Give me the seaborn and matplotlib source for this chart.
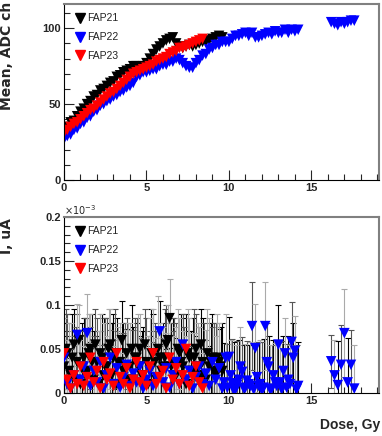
import numpy as np
import pandas as pd
import seaborn as sns
import matplotlib.pyplot as plt
from matplotlib.ticker import MultipleLocator

# dose points (Gy)
dose21 = [0.0, 0.2, 0.4, 0.6, 0.8, 1.0, 1.2, 1.4, 1.6, 1.8, 2.0, 2.2, 2.4, 2.6, 2.8, 3.0, 3.2,
          3.4, 3.6, 3.8, 4.0, 4.2, 4.4, 4.6, 4.8, 5.0, 5.2, 5.4, 5.6, 5.8, 6.0, 6.2, 6.4, 6.6,
          6.8, 7.0, 7.2, 7.4, 7.6, 7.8, 8.0, 8.2, 8.4, 8.6, 8.8, 9.0, 9.2, 9.4, 9.6]
dose22 = [0.0, 0.2, 0.4, 0.6, 0.8, 1.0, 1.2, 1.4, 1.6, 1.8, 2.0, 2.2, 2.4, 2.6, 2.8, 3.0, 3.2,
          3.4, 3.6, 3.8, 4.0, 4.2, 4.4, 4.6, 4.8, 5.0, 5.2, 5.4, 5.6, 5.8, 6.0, 6.2, 6.4, 6.6,
          6.8, 7.0, 7.2, 7.4, 7.6, 7.8, 8.0, 8.2, 8.4, 8.6, 8.8, 9.0, 9.2, 9.4, 9.6, 9.8, 10.0,
          10.2, 10.4, 10.6, 10.8, 11.0, 11.2, 11.4, 11.6, 11.8, 12.0, 12.2, 12.4, 12.6, 12.8,
          13.0, 13.2, 13.4, 13.6, 13.8, 14.0, 14.2,
          16.2, 16.4, 16.6, 16.8, 17.0, 17.2, 17.4, 17.6]
dose23 = [0.0, 0.2, 0.4, 0.6, 0.8, 1.0, 1.2, 1.4, 1.6, 1.8, 2.0, 2.2, 2.4, 2.6, 2.8, 3.0, 3.2,
          3.4, 3.6, 3.8, 4.0, 4.2, 4.4, 4.6, 4.8, 5.0, 5.2, 5.4, 5.6, 5.8, 6.0, 6.2, 6.4, 6.6,
          6.8, 7.0, 7.2, 7.4, 7.6, 7.8, 8.0, 8.2, 8.4]

# mean ADC
mean21 = [33, 35, 38, 39, 42, 45, 47, 50, 52, 55, 56, 59, 60, 62, 64, 65, 68, 69, 71, 72,
          73, 75, 75, 74, 75, 77, 80, 83, 86, 88, 90, 92, 93, 94, 90, 88, 87, 88, 89, 88,
          89, 90, 91, 91, 92, 93, 94, 95, 94]
mean22 = [27, 29, 30, 33, 34, 37, 38, 41, 42, 45, 46, 49, 50, 52, 53, 55, 56, 58, 59, 61,
          62, 64, 68, 69, 71, 71, 72, 73, 73, 75, 76, 76, 78, 78, 80, 79, 77, 75, 74, 74,
          77, 79, 82, 83, 86, 87, 89, 89, 91, 91, 91, 93, 95, 95, 96, 97, 95, 97, 94, 94,
          95, 96, 97, 96, 98, 97, 97, 99, 97, 99, 98, 99,
          104, 103, 102, 104, 103, 104, 105, 105]
mean23 = [31, 33, 35, 37, 38, 40, 42, 44, 46, 47, 49, 51, 53, 55, 57, 58, 60, 62, 64, 66,
          68, 70, 71, 72, 73, 74, 75, 76, 78, 79, 80, 81, 83, 84, 85, 87, 87, 88, 89, 90,
          91, 92, 93]

# current (x1e-3 uA) and errors
cur21 = [0.030, 0.045, 0.020, 0.055, 0.035, 0.010, 0.040, 0.025, 0.050, 0.015, 0.035, 0.045,
         0.020, 0.030, 0.055, 0.040, 0.010, 0.035, 0.025, 0.045, 0.030, 0.015, 0.040, 0.050,
         0.020, 0.035, 0.025, 0.045, 0.015, 0.040, 0.030, 0.055, 0.085, 0.035, 0.020, 0.045,
         0.030, 0.010, 0.040, 0.025, 0.050, 0.020, 0.035, 0.015, 0.030, 0.040, 0.020, 0.035,
         0.025]
err21 = [0.050, 0.045, 0.060, 0.040, 0.055, 0.050, 0.045, 0.060, 0.040, 0.055, 0.050, 0.045,
         0.065, 0.055, 0.040, 0.050, 0.060, 0.045, 0.055, 0.040, 0.050, 0.060, 0.045, 0.040,
         0.055, 0.050, 0.060, 0.045, 0.055, 0.040, 0.050, 0.045, 0.045, 0.050, 0.060, 0.040,
         0.055, 0.050, 0.045, 0.060, 0.040, 0.055, 0.050, 0.045, 0.055, 0.050, 0.060, 0.045,
         0.055]
cur22 = [0.040, 0.010, 0.005, 0.020, 0.066, 0.015, 0.030, 0.068, 0.008, 0.025, 0.012, 0.035,
         0.005, 0.020, 0.040, 0.010, 0.028, 0.006, 0.018, 0.032, 0.008, 0.022, 0.012, 0.030,
         0.005, 0.015, 0.025, 0.008, 0.018, 0.070, 0.012, 0.028, 0.006, 0.020, 0.035, 0.010,
         0.055, 0.015, 0.025, 0.005, 0.018, 0.030, 0.010, 0.022, 0.008, 0.035, 0.015, 0.028,
         0.005, 0.040, 0.041, 0.011, 0.004, 0.015, 0.024, 0.006, 0.010, 0.076, 0.051, 0.008,
         0.003, 0.076, 0.030, 0.005, 0.012, 0.055, 0.004, 0.045, 0.015, 0.058, 0.048, 0.008,
         0.036, 0.020, 0.009, 0.032, 0.068, 0.012, 0.032, 0.005]
err22 = [0.045, 0.050, 0.040, 0.045, 0.035, 0.050, 0.040, 0.045, 0.050, 0.040, 0.045, 0.035,
         0.050, 0.045, 0.040, 0.050, 0.035, 0.045, 0.050, 0.040, 0.045, 0.050, 0.040, 0.035,
         0.050, 0.045, 0.040, 0.050, 0.045, 0.035, 0.050, 0.040, 0.045, 0.050, 0.040, 0.045,
         0.035, 0.050, 0.045, 0.040, 0.050, 0.045, 0.040, 0.050, 0.045, 0.040, 0.050, 0.045,
         0.040, 0.050, 0.045, 0.050, 0.050, 0.045, 0.040, 0.050, 0.045, 0.050, 0.050, 0.050,
         0.055, 0.050, 0.035, 0.050, 0.045, 0.045, 0.055, 0.040, 0.050, 0.045, 0.040, 0.050,
         0.030, 0.040, 0.050, 0.045, 0.050, 0.050, 0.040, 0.050]
cur23 = [0.045, 0.015, 0.005, 0.020, 0.010, 0.030, 0.008, 0.018, 0.040, 0.012, 0.025, 0.005,
         0.035, 0.015, 0.022, 0.008, 0.045, 0.018, 0.010, 0.028, 0.005, 0.015, 0.035, 0.012,
         0.020, 0.008, 0.030, 0.045, 0.010, 0.018, 0.025, 0.005, 0.040, 0.015, 0.028, 0.010,
         0.020, 0.050, 0.008, 0.018, 0.030, 0.012, 0.005]
err23 = [0.040, 0.050, 0.045, 0.035, 0.050, 0.040, 0.045, 0.050, 0.035, 0.045, 0.040, 0.050,
         0.045, 0.035, 0.050, 0.045, 0.040, 0.050, 0.035, 0.045, 0.050, 0.040, 0.045, 0.050,
         0.035, 0.045, 0.040, 0.050, 0.045, 0.035, 0.050, 0.045, 0.040, 0.050, 0.035, 0.045,
         0.050, 0.040, 0.045, 0.050, 0.035, 0.045, 0.040]

# extra current readings between the main dose points
dose21_x = [0.1, 0.3, 0.5, 0.7, 0.9, 1.1, 1.3, 1.5, 1.7, 1.9, 2.1, 2.3, 2.5, 2.7, 2.9, 3.1,
            3.3, 3.5, 3.7, 3.9, 4.1, 4.3, 4.5, 4.7, 4.9, 5.1, 5.3, 5.5, 5.7, 5.9, 6.1, 6.3,
            6.5, 6.7, 6.9, 7.1, 7.3, 7.5, 7.7, 7.9, 8.1, 8.3, 8.5, 8.7, 8.9, 9.1, 9.3, 9.5]
cur21_x = [0.050, 0.025, 0.040, 0.015, 0.060, 0.030, 0.020, 0.045, 0.035, 0.055, 0.010, 0.040,
           0.030, 0.050, 0.020, 0.045, 0.035, 0.060, 0.025, 0.015, 0.050, 0.040, 0.030, 0.020,
           0.055, 0.010, 0.045, 0.035, 0.050, 0.025, 0.040, 0.060, 0.030, 0.020, 0.050, 0.035,
           0.015, 0.045, 0.025, 0.040, 0.030, 0.055, 0.020, 0.045, 0.035, 0.025, 0.040, 0.030]
err21_x = [0.045, 0.055, 0.050, 0.060, 0.040, 0.050, 0.065, 0.045, 0.055, 0.040, 0.060, 0.050,
           0.055, 0.045, 0.060, 0.050, 0.040, 0.045, 0.055, 0.065, 0.050, 0.045, 0.060, 0.050,
           0.040, 0.055, 0.050, 0.045, 0.060, 0.050, 0.055, 0.040, 0.050, 0.065, 0.045, 0.055,
           0.060, 0.050, 0.045, 0.055, 0.050, 0.040, 0.060, 0.050, 0.045, 0.055, 0.050, 0.045]
dose22_x = [9.7, 9.9, 10.1, 10.3, 10.5, 10.7, 10.9, 11.1, 11.3, 11.5, 11.7, 11.9, 12.1, 12.3,
            12.5, 12.7, 12.9, 13.1, 13.3, 13.5, 13.7, 13.9, 14.1]
cur22_x = [0.012, 0.006, 0.020, 0.003, 0.009, 0.030, 0.005, 0.014, 0.008, 0.004, 0.018, 0.010,
           0.006, 0.035, 0.004, 0.020, 0.008, 0.012, 0.025, 0.006, 0.010, 0.040, 0.004]
err22_x = [0.045, 0.050, 0.040, 0.055, 0.050, 0.045, 0.050, 0.045, 0.050, 0.050, 0.040, 0.050,
           0.055, 0.045, 0.050, 0.040, 0.050, 0.045, 0.040, 0.050, 0.045, 0.040, 0.050]

labels = ['FAP21', 'FAP22', 'FAP23']
colors = ['black', '#0000ff', '#ff0000']

top = pd.concat([
    pd.DataFrame({'dose': dose21, 'mean': mean21, 'sample': 'FAP21'}),
    pd.DataFrame({'dose': dose22, 'mean': mean22, 'sample': 'FAP22'}),
    pd.DataFrame({'dose': dose23, 'mean': mean23, 'sample': 'FAP23'}),
], ignore_index=True)
bot = pd.concat([
    pd.DataFrame({'dose': dose21, 'cur': cur21, 'err': err21, 'sample': 'FAP21'}),
    pd.DataFrame({'dose': dose21_x, 'cur': cur21_x, 'err': err21_x, 'sample': 'FAP21'}),
    pd.DataFrame({'dose': dose22, 'cur': cur22, 'err': err22, 'sample': 'FAP22'}),
    pd.DataFrame({'dose': dose22_x, 'cur': cur22_x, 'err': err22_x, 'sample': 'FAP22'}),
    pd.DataFrame({'dose': dose23, 'cur': cur23, 'err': err23, 'sample': 'FAP23'}),
], ignore_index=True)

sns.set_style('ticks')
plt.rcParams['font.family'] = ['Liberation Sans', 'DejaVu Sans']

fig = plt.figure(figsize=(3.82, 4.36), dpi=100)
ax1 = fig.add_axes([64 / 382, 1 - 180 / 436, 315 / 382, 176 / 436])
ax2 = fig.add_axes([64 / 382, 1 - 393 / 436, 315 / 382, 176 / 436])

# top: mean ADC vs dose
sns.scatterplot(data=top, x='dose', y='mean', hue='sample', hue_order=labels, palette=colors,
                marker='v', s=58, linewidth=0, ax=ax1, legend=False)
ax1.set_ylim(0, 116)

# bottom: current with error bars
shades = ['black', '#555555', '#aaaaaa']
for k in range(3):
    sub = bot[bot.index % 3 == k]
    ax2.errorbar(sub['dose'], sub['cur'], yerr=sub['err'], fmt='none', ecolor=shades[k],
                 elinewidth=0.8, capsize=2, capthick=0.8, zorder=1)
sns.scatterplot(data=bot, x='dose', y='cur', hue='sample', hue_order=labels, palette=colors,
                marker='v', s=58, linewidth=0, ax=ax2, legend=False, zorder=3)
ax2.set_ylim(0, 0.2)
ax2.set_yticks([0, 0.05, 0.1, 0.15, 0.2])
ax2.set_yticklabels(['0', '0.05', '0.1', '0.15', '0.2'])
ax2.text(0.0, 1.0, r'$\times10^{-3}$', transform=ax2.transAxes, fontsize=7,
         ha='left', va='bottom')

for ax in (ax1, ax2):
    ax.set_xlim(0, 19.1)
    ax.xaxis.set_major_locator(MultipleLocator(5))
    ax.xaxis.set_minor_locator(MultipleLocator(1))
    ax.set_xlabel('')
    ax.set_ylabel('')
    ax.tick_params(which='both', direction='in', top=False, right=False, labelsize=8, pad=2)
    ax.tick_params(which='major', length=7, width=0.8)
    ax.tick_params(which='minor', length=4, width=0.8)
    for s in ('top', 'right'):
        ax.spines[s].set_color('#808080')
        ax.spines[s].set_linewidth(1.5)
    for s in ('left', 'bottom'):
        ax.spines[s].set_color('black')
        ax.spines[s].set_linewidth(0.8)
    handles = [plt.Line2D([], [], marker='v', color=c, linestyle='none', markersize=7.5)
               for c in colors]
    ax.legend(handles, labels, loc='upper left', frameon=False, fontsize=7.5,
              handletextpad=0.1, labelspacing=0.85, borderaxespad=0.5, handlelength=1.2,
              labelcolor='#222222')

ax1.yaxis.set_major_locator(MultipleLocator(50))
ax1.yaxis.set_minor_locator(MultipleLocator(10))
ax2.yaxis.set_minor_locator(MultipleLocator(0.01))
for ax in (ax1, ax2):
    for lab in ax.get_xticklabels() + ax.get_yticklabels():
        lab.set_fontweight('bold')

fig.text(7 / 382, 1 - 2 / 436, 'Mean, ADC ch', rotation=90, ha='center', va='top',
         fontsize=10, fontweight='bold', family='DejaVu Sans')
fig.text(7 / 382, 1 - 218 / 436, 'I, uA', rotation=90, ha='center', va='top',
         fontsize=10, fontweight='bold', family='DejaVu Sans')
fig.text(380 / 382, 1 - 425 / 436, 'Dose, Gy', ha='right', va='center',
         fontsize=10, fontweight='bold')

fig.savefig('out.png', dpi=100)
